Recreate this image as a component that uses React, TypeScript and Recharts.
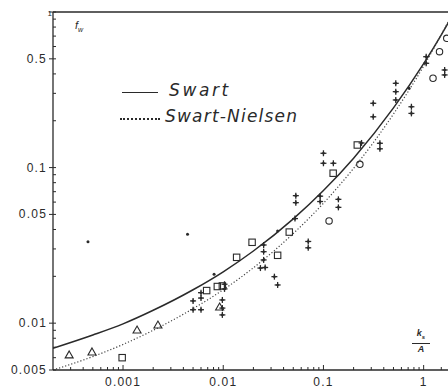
import React from 'react';
import { ComposedChart, Line, Scatter, XAxis, YAxis, ReferenceLine } from 'recharts';

// axis ticks
const xMajor = [0.001, 0.01, 0.1, 1];
const xLabels = ['0.001', '0.01', '0.1', '1'];
const xMinor = [
  0.0003, 0.0004, 0.0005, 0.0006, 0.0007, 0.0008, 0.0009,
  0.002, 0.003, 0.004, 0.005, 0.006, 0.007, 0.008, 0.009,
  0.02, 0.03, 0.04, 0.05, 0.06, 0.07, 0.08, 0.09,
  0.2, 0.3, 0.4, 0.5, 0.6, 0.7, 0.8, 0.9, 1.5,
];
const yMajor = [0.005, 0.01, 0.05, 0.1, 0.5, 1];
const yLabels = ['0.005', '0.01', '0.05', '0.1', '0.5', '1'];
const yMinor = [
  0.006, 0.007, 0.008, 0.009,
  0.02, 0.03, 0.04, 0.06, 0.07, 0.08, 0.09,
  0.2, 0.3, 0.4, 0.6, 0.7, 0.8, 0.9,
];

// curves (ks/A , fw)
const curveX = [0.0002, 0.0005, 0.001, 0.002, 0.005, 0.01, 0.02, 0.05, 0.1, 0.2, 0.5, 1, 1.5, 1.75];
const swartY = [0.0069, 0.0084, 0.0099, 0.0121, 0.0164, 0.0214, 0.0291, 0.0468, 0.0712, 0.115, 0.242, 0.466, 0.714, 0.847];
const nielsenY = [0.005, 0.0061, 0.0073, 0.009, 0.0124, 0.0164, 0.0227, 0.0377, 0.059, 0.099, 0.221, 0.449, 0.715, 0.862];

// measured points
const triX = [0.00029, 0.00049, 0.00138, 0.00223, 0.0092];
const triY = [0.00625, 0.00653, 0.00904, 0.00973, 0.0127];

const sqX = [0.00098, 0.00683, 0.00873, 0.0098, 0.0136, 0.0194, 0.0349, 0.0456, 0.125, 0.2177];
const sqY = [0.006, 0.0162, 0.0172, 0.01735, 0.0265, 0.0331, 0.0273, 0.0385, 0.092, 0.1397];

const circX = [0.1138, 0.231, 1.24, 1.44, 1.7];
const circY = [0.0454, 0.105, 0.375, 0.556, 0.677];

const crossX = [
  0.005, 0.005, 0.006, 0.006, 0.006, 0.0098, 0.0098, 0.0098, 0.0103, 0.0103,
  0.0253, 0.0253, 0.0253, 0.0235, 0.0262, 0.0324, 0.0349, 0.053, 0.053, 0.052,
  0.0705, 0.0705, 0.0927, 0.0927, 0.141, 0.141, 0.1, 0.1, 0.1256, 0.366,
  0.366, 0.314, 0.314, 0.527, 0.527, 0.527, 0.755, 0.755, 1.06, 1.06,
  1.62, 1.62, 0.24,
];
const crossY = [
  0.0139, 0.0122, 0.0122, 0.0145, 0.0157, 0.0141, 0.0125, 0.0113, 0.0178, 0.0166,
  0.0318, 0.0288, 0.0255, 0.0226, 0.0228, 0.0199, 0.0176, 0.066, 0.0595, 0.047,
  0.0335, 0.0305, 0.0655, 0.0605, 0.0625, 0.0555, 0.1236, 0.1066, 0.1066, 0.1433,
  0.132, 0.259, 0.212, 0.348, 0.3076, 0.272, 0.246, 0.223, 0.516, 0.468,
  0.424, 0.394, 0.144,
];

const dotX = [0.0081, 0.0349, 0.715, 0.000447, 0.0044];
const dotY = [0.0206, 0.0391, 0.323, 0.0334, 0.0373];

const zip = (xs: number[], ys: number[]) => xs.map((x, i) => ({ x, y: ys[i] }));

const swart = zip(curveX, swartY);
const nielsen = zip(curveX, nielsenY);
const tris = zip(triX, triY);
const squares = zip(sqX, sqY);
const circles = zip(circX, circY);
const crosses = zip(crossX, crossY);
const dots = zip(dotX, dotY);

const INK = '#2a2a2a';
const tickFont = '"Liberation Sans", Arial, sans-serif';

const xTicks = [...xMinor, ...xMajor].sort((a, b) => a - b);
const yTicks = [...yMinor, ...yMajor].sort((a, b) => a - b);

const XTick = (props: any) => {
  const { x, y, payload } = props;
  const i = xMajor.indexOf(payload.value);
  const major = i >= 0;
  return (
    <g>
      <line x1={x} x2={x} y1={y} y2={y - (major ? 5 : 3)} stroke={INK} strokeWidth={1} />
      {major && (
        <text x={x} y={y + 16} textAnchor="middle" fontSize={12} letterSpacing={1.2} fill={INK} fontFamily={tickFont}>
          {xLabels[i]}
        </text>
      )}
    </g>
  );
};

const YTick = (props: any) => {
  const { x, y, payload } = props;
  const i = yMajor.indexOf(payload.value);
  const major = i >= 0;
  const isOne = payload.value === 1;
  return (
    <g>
      <line x1={major ? x - 4 : x} x2={x + 3} y1={y} y2={y} stroke={INK} strokeWidth={1} />
      {major && (
        <text
          x={isOne ? x - 1 : x - 6}
          y={isOne ? y + 1 : y}
          textAnchor="end"
          dominantBaseline="central"
          fontSize={isOne ? 8 : 12}
          letterSpacing={isOne ? 0 : 1.2}
          fill={INK}
          fontFamily={tickFont}
        >
          {yLabels[i]}
        </text>
      )}
    </g>
  );
};

const Tri = (p: any) => (
  <path d={`M${p.cx},${p.cy - 4} L${p.cx + 4},${p.cy + 3} L${p.cx - 4},${p.cy + 3} Z`} fill="none" stroke={INK} strokeWidth={1.1} />
);
const Sq = (p: any) => <rect x={p.cx - 3.2} y={p.cy - 3.2} width={6.4} height={6.4} fill="none" stroke={INK} strokeWidth={1.1} />;
const Circ = (p: any) => <circle cx={p.cx} cy={p.cy} r={3.2} fill="none" stroke={INK} strokeWidth={1.1} />;
const Cross = (p: any) => (
  <g stroke={INK} strokeWidth={1.3}>
    <line x1={p.cx - 3} x2={p.cx + 3} y1={p.cy} y2={p.cy} />
    <line x1={p.cx} x2={p.cx} y1={p.cy - 3} y2={p.cy + 3} />
    <path d={`M${p.cx},${p.cy - 1.8} L${p.cx + 1.8},${p.cy} L${p.cx},${p.cy + 1.8} L${p.cx - 1.8},${p.cy} Z`} fill={INK} strokeWidth={0} />
  </g>
);
const Dot = (p: any) => <circle cx={p.cx} cy={p.cy} r={1.5} fill={INK} />;

const hand = '"DejaVu Sans", "Liberation Sans", sans-serif';

export default function App() {
  return (
    <div style={{ position: 'absolute', left: 0, top: 0, width: 448, height: 392, background: '#fff' }}>
      <ComposedChart width={448} height={392} margin={{ top: 12, right: 0, bottom: 0, left: 0 }}>
        <XAxis
          type="number"
          dataKey="x"
          scale="log"
          domain={[0.0002, 1.75]}
          allowDataOverflow
          ticks={xTicks}
          interval={0}
          tick={<XTick />}
          tickLine={false}
          tickSize={0}
          tickMargin={0}
          height={22}
          axisLine={{ stroke: INK, strokeWidth: 1.3 }}
        />
        <YAxis
          type="number"
          dataKey="y"
          scale="log"
          domain={[0.005, 1]}
          allowDataOverflow
          ticks={yTicks}
          interval={0}
          tick={<YTick />}
          tickLine={false}
          tickSize={0}
          tickMargin={0}
          width={53}
          axisLine={{ stroke: INK, strokeWidth: 1.3 }}
        />
        <ReferenceLine y={1} stroke={INK} strokeWidth={1.5} />
        <Line data={swart} dataKey="y" type="monotone" stroke={INK} strokeWidth={1.5} dot={false} isAnimationActive={false} />
        <Line data={nielsen} dataKey="y" type="monotone" stroke="#444" strokeWidth={1.2} strokeDasharray="1.2 2" dot={false} isAnimationActive={false} />
        <Scatter data={tris} shape={Tri} isAnimationActive={false} />
        <Scatter data={squares} shape={Sq} isAnimationActive={false} />
        <Scatter data={circles} shape={Circ} isAnimationActive={false} />
        <Scatter data={crosses} shape={Cross} isAnimationActive={false} />
        <Scatter data={dots} shape={Dot} isAnimationActive={false} />
      </ComposedChart>

      {/* axis labels */}
      <div style={{ position: 'absolute', left: 75, top: 19, fontFamily: tickFont, fontStyle: 'italic', fontSize: 11, color: INK }}>
        f<sub style={{ fontSize: 7 }}>w</sub>
      </div>
      <div style={{ position: 'absolute', left: 412, top: 328, width: 18, textAlign: 'center', fontFamily: tickFont, fontStyle: 'italic', fontWeight: 'bold', fontSize: 9, color: INK, lineHeight: '10px' }}>
        <div style={{ borderBottom: `1px solid ${INK}`, paddingBottom: 1 }}>
          k<sub style={{ fontSize: 6 }}>s</sub>
        </div>
        <div>A</div>
      </div>

      {/* legend */}
      <div style={{ position: 'absolute', left: 122, top: 92, width: 36, borderTop: `1.5px solid ${INK}` }} />
      <div style={{ position: 'absolute', left: 169, top: 80, fontFamily: hand, fontStyle: 'italic', fontSize: 17, letterSpacing: 2.6, color: INK }}>
        Swart
      </div>
      <div style={{ position: 'absolute', left: 120, top: 118, width: 40, borderTop: `2px dotted ${INK}` }} />
      <div style={{ position: 'absolute', left: 165, top: 106, fontFamily: hand, fontStyle: 'italic', fontSize: 17, letterSpacing: 1.2, color: INK }}>
        Swart-Nielsen
      </div>
    </div>
  );
}
